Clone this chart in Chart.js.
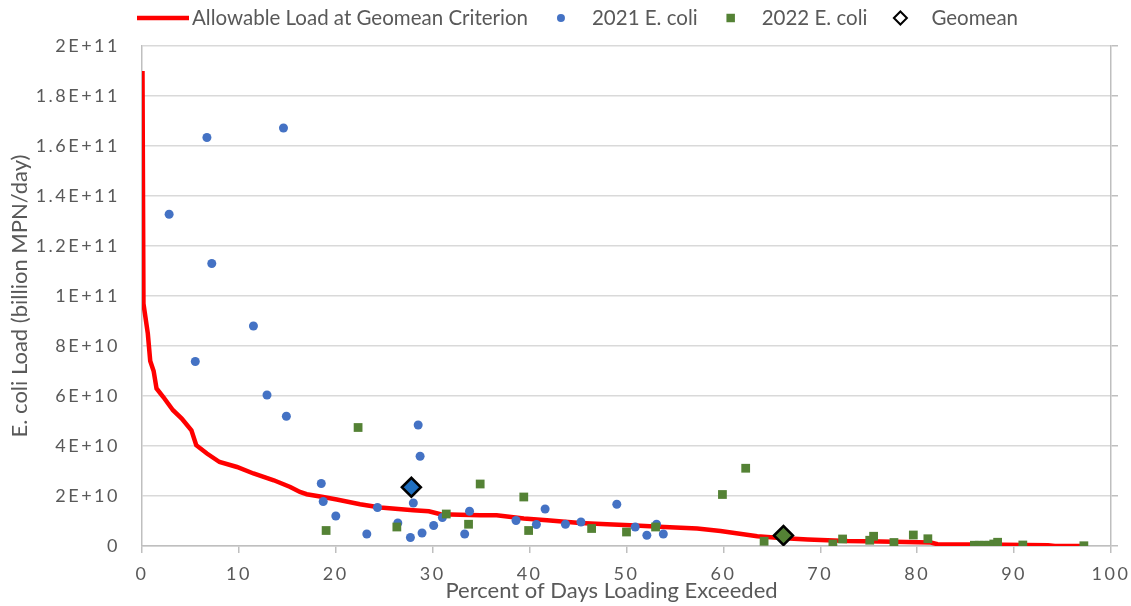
<!DOCTYPE html>
<html lang="en">
<head>
    <meta charset="UTF-8">
    <title>E. coli Load Duration Curve</title>
    <script src="https://cdn.jsdelivr.net/npm/chart.js"></script>
    <style>
        body {
            margin: 0;
            padding: 0;
            background: #ffffff;
        }

        #wrap {
            position: relative;
            width: 1131px;
            height: 606px;
        }
    </style>
</head>
<body>

    <div id="wrap">
        <canvas id="ldcChart"></canvas>
    </div>

    <script>
        // Allowable load curve (percent exceeded, load in MPN/day)
        const allowableX = [0.05, 0.15, 0.6, 0.85, 1.2, 1.5, 2.2, 3.2, 4.1, 5.1, 5.6, 6.7, 8.0, 9.8, 11.5, 13.6, 15.3, 16.3, 17.0, 18.7, 20.1, 22.5, 24.6, 28.0, 29.6, 30.8, 34.9, 36.6, 39.4, 41.8, 45.2, 48.0, 50.4, 53.9, 57.3, 59.7, 63.5, 65.9, 68.7, 72.8, 76.2, 81.4, 82.1, 86.6, 93.5, 94.2, 97.2];
        const allowableY = [190e9, 97e9, 85e9, 74e9, 70e9, 63e9, 59.6e9, 54.3e9, 51e9, 46.3e9, 40.3e9, 37e9, 33.6e9, 31.6e9, 29e9, 26.3e9, 23.6e9, 21.6e9, 20.7e9, 19.6e9, 18.6e9, 16.7e9, 15.4e9, 14.3e9, 13.9e9, 12.7e9, 12.3e9, 12.3e9, 11e9, 10.3e9, 9.2e9, 8.7e9, 8.3e9, 7.6e9, 7e9, 6e9, 3.9e9, 3.2e9, 2.6e9, 2e9, 1.8e9, 1.4e9, 0.7e9, 0.6e9, 0.3e9, 0, 0];

        // 2021 samples
        const ecoli2021X = [6.7, 14.6, 2.8, 7.2, 11.5, 5.5, 12.9, 14.9, 28.5, 28.7, 18.5, 18.7, 20.0, 23.2, 24.3, 26.4, 28.0, 27.7, 28.9, 30.1, 31.0, 33.8, 33.3, 38.6, 40.7, 41.6, 43.7, 45.3, 49.0, 50.9, 52.1, 53.1, 53.8];
        const ecoli2021Y = [163.4e9, 167.2e9, 132.7e9, 113e9, 88e9, 73.8e9, 60.4e9, 51.9e9, 48.4e9, 35.9e9, 25e9, 17.8e9, 12e9, 4.8e9, 15.4e9, 9.2e9, 17.2e9, 3.4e9, 5.2e9, 8.2e9, 11.4e9, 13.9e9, 4.8e9, 10.2e9, 8.6e9, 14.8e9, 8.7e9, 9.6e9, 16.7e9, 7.6e9, 4.3e9, 8.7e9, 4.8e9];

        // 2022 samples
        const ecoli2022X = [22.3, 19.0, 26.3, 31.4, 34.9, 33.7, 39.4, 39.9, 46.4, 50.0, 53.0, 59.9, 62.3, 64.2, 71.3, 72.3, 75.1, 75.5, 77.6, 79.6, 81.1, 85.9, 86.4, 86.9, 87.4, 87.9, 88.3, 90.9, 97.2];
        const ecoli2022Y = [47.4e9, 6.2e9, 7.6e9, 12.8e9, 24.8e9, 8.7e9, 19.6e9, 6.2e9, 7.0e9, 5.6e9, 7.6e9, 20.6e9, 31.1e9, 1.9e9, 0.8e9, 2.8e9, 2.3e9, 3.9e9, 1.4e9, 4.4e9, 2.9e9, 0.3e9, 0.3e9, 0.3e9, 0.3e9, 0.8e9, 1.5e9, 0.4e9, 0.1e9];

        // Geomean of each year (2021, 2022)
        const geomeanX = [27.8, 66.2];
        const geomeanY = [23.5e9, 4.2e9];

        const yTickLabels = ['0', '2E+10', '4E+10', '6E+10', '8E+10', '1E+11', '1.2E+11', '1.4E+11', '1.6E+11', '1.8E+11', '2E+11'];

        const xTitle = 'Percent of Days Loading Exceeded';
        const yTitle = 'E. coli Load (billion MPN/day)';

        const toPoints = (xs, ys) => xs.map((x, i) => ({ x: x, y: ys[i] }));

        const textGray = '#595959';
        const fontName = 'Lato';
        const tickSpacing = '2.5px';

        // wide letter spacing on tick labels (Excel/Calibri look)
        const spacedTicks = {
            id: 'spacedTicks',
            beforeLayout(chart) { chart.ctx.letterSpacing = tickSpacing; },
            beforeDraw(chart) { chart.ctx.letterSpacing = tickSpacing; }
        };

        // axis titles and Excel-like legend, drawn without letter spacing
        const titlesAndLegend = {
            id: 'titlesAndLegend',
            afterDraw(chart) {
                const ctx = chart.ctx;
                const area = chart.chartArea;
                ctx.save();
                ctx.letterSpacing = '0px';
                ctx.fillStyle = textGray;
                ctx.textBaseline = 'middle';
                ctx.textAlign = 'center';

                // axis titles
                ctx.font = '22px ' + fontName;
                ctx.fillText(xTitle, (area.left + area.right) / 2 - 15, 591);
                ctx.save();
                ctx.translate(20, (area.top + area.bottom) / 2);
                ctx.rotate(-Math.PI / 2);
                ctx.fillText(yTitle, 0, 0);
                ctx.restore();

                // legend
                ctx.textAlign = 'left';
                ctx.font = '20.5px ' + fontName;
                const y = 18;
                let x = 137;
                chart.data.datasets.forEach(ds => {
                    if (ds.type === 'line') {
                        ctx.strokeStyle = ds.borderColor;
                        ctx.lineWidth = 4.5;
                        ctx.beginPath();
                        ctx.moveTo(x, y);
                        ctx.lineTo(x + 52, y);
                        ctx.stroke();
                        x += 55;
                    } else {
                        const cx = x + 33;
                        ctx.fillStyle = ds.legendFill || ds.backgroundColor;
                        ctx.strokeStyle = ds.legendBorder || ds.backgroundColor;
                        ctx.lineWidth = ds.legendBorder ? 2 : 0;
                        Chart.helpers.drawPoint(ctx, {
                            pointStyle: ds.pointStyle,
                            radius: ds.legendRadius,
                            rotation: 0,
                            borderWidth: ds.legendBorder ? 2 : 0
                        }, cx, y);
                        x = cx + 31;
                    }
                    ctx.fillStyle = textGray;
                    ctx.fillText(ds.label, x, y);
                    x += ctx.measureText(ds.label).width;
                });
                ctx.restore();
            }
        };

        const ctx = document.getElementById('ldcChart').getContext('2d');
        new Chart(ctx, {
            data: {
                datasets: [
                    {
                        type: 'line',
                        label: 'Allowable Load at Geomean Criterion',
                        data: toPoints(allowableX, allowableY),
                        borderColor: '#ff0000',
                        borderWidth: 4.5,
                        pointRadius: 0,
                        tension: 0,
                        fill: false,
                        order: 4
                    },
                    {
                        type: 'scatter',
                        label: '2021 E. coli',
                        data: toPoints(ecoli2021X, ecoli2021Y),
                        backgroundColor: '#4472c4',
                        borderWidth: 0,
                        pointStyle: 'circle',
                        pointRadius: 4.5,
                        legendRadius: 4,
                        order: 3
                    },
                    {
                        type: 'scatter',
                        label: '2022 E. coli',
                        data: toPoints(ecoli2022X, ecoli2022Y),
                        backgroundColor: '#548235',
                        borderWidth: 0,
                        pointStyle: 'rect',
                        pointRadius: 6.2,
                        legendRadius: 6,
                        order: 2
                    },
                    {
                        type: 'scatter',
                        label: 'Geomean',
                        data: toPoints(geomeanX, geomeanY),
                        backgroundColor: ['#1f6fc0', '#548235'],
                        borderColor: '#000000',
                        borderWidth: 2.5,
                        pointStyle: 'rectRot',
                        pointRadius: 9.5,
                        legendFill: '#ffffff',
                        legendBorder: '#000000',
                        legendRadius: 6.5,
                        order: 1
                    }
                ]
            },
            options: {
                responsive: true,
                maintainAspectRatio: false,
                animation: false,
                layout: {
                    padding: { top: 46, left: 0, right: 13, bottom: 0 }
                },
                plugins: {
                    legend: { display: false },
                    tooltip: { enabled: false }
                },
                scales: {
                    x: {
                        type: 'linear',
                        min: 0,
                        max: 100,
                        ticks: {
                            stepSize: 10,
                            color: textGray,
                            padding: 10,
                            font: { family: fontName, size: 18 }
                        },
                        grid: {
                            drawOnChartArea: false,
                            drawTicks: true,
                            tickLength: 7,
                            color: '#bfbfbf',
                            lineWidth: 1.5
                        },
                        border: { color: '#bfbfbf', width: 1.5 },
                        afterFit(scale) {
                            scale.height = 60;
                            scale.paddingLeft = 0;
                            scale.paddingRight = 0;
                        }
                    },
                    y: {
                        type: 'linear',
                        position: 'left',
                        min: 0,
                        max: 2e11,
                        ticks: {
                            stepSize: 2e10,
                            color: textGray,
                            padding: 22,
                            font: { family: fontName, size: 18 },
                            callback: (value, index) => yTickLabels[index]
                        },
                        grid: {
                            color: '#d9d9d9',
                            lineWidth: 1.5,
                            drawTicks: false
                        },
                        border: { color: '#bfbfbf', width: 1.5 },
                        afterFit(scale) { scale.width = 142; }
                    },
                    y2: {
                        type: 'linear',
                        position: 'right',
                        min: 0,
                        max: 2e11,
                        ticks: { display: false, stepSize: 2e10 },
                        grid: {
                            drawOnChartArea: false,
                            drawTicks: true,
                            tickLength: 7,
                            color: '#bfbfbf',
                            lineWidth: 1.5
                        },
                        border: { color: '#bfbfbf', width: 1.5 },
                        afterFit(scale) { scale.width = 7; }
                    }
                }
            },
            plugins: [spacedTicks, titlesAndLegend]
        });
    </script>
</body>
</html>
